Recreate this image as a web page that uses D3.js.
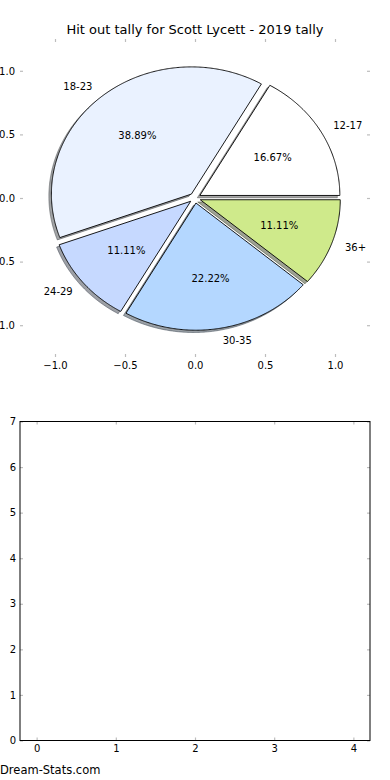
<!DOCTYPE html>
<html>
<head>
<meta charset="utf-8">
<script src="https://cdn.jsdelivr.net/npm/d3@7"></script>
<style>
  html, body { margin: 0; padding: 0; background: #fff; }
  svg { display: block; }
  text { font-family: "DejaVu Sans", sans-serif; fill: #000; }
</style>
</head>
<body>
<svg id="chart" width="390" height="780"></svg>
<script>
// ---- data ----
const titleText = "Hit out tally for Scott Lycett - 2019 tally";
const categories = ["12-17", "18-23", "24-29", "30-35", "36+"];
const values = [3, 7, 2, 4, 2];
const sliceColors = ["#ffffff", "#eaf2ff", "#c6d9ff", "#b4d7ff", "#cfea8b"];
const explode = [0.04, 0.04, 0.04, 0.04, 0.04];
const pieTicks = [-1.0, -0.5, 0.0, 0.5, 1.0];
const lowerXTicks = [0, 1, 2, 3, 4];
const lowerYTicks = [0, 1, 2, 3, 4, 5, 6, 7];
const watermark = "Dream-Stats.com";

const svg = d3.select("#chart");

// ---- top (pie) panel ----
const topBox = {left: 20, right: 370, top: 39, bottom: 357};
const x1 = d3.scaleLinear().domain([-1.25, 1.25]).range([topBox.left, topBox.right]);
const y1 = d3.scaleLinear().domain([-1.25, 1.25]).range([topBox.bottom, topBox.top]);

svg.append("text")
  .attr("x", (topBox.left + topBox.right) / 2)
  .attr("y", 34)
  .attr("text-anchor", "middle")
  .style("font-size", "13px")
  .text(titleText);

const tickColor = "#bdbdbd";
function styleAxis(g) {
  g.select(".domain").remove();
  g.selectAll(".tick line").attr("stroke", tickColor).attr("stroke-width", 1.2);
  g.selectAll(".tick text").style("font-family", "DejaVu Sans, sans-serif").style("font-size", "10px").attr("fill", "#000");
}
const fmt1 = d3.format(".1f");
svg.append("g").attr("transform", `translate(${topBox.left},0)`)
  .call(d3.axisLeft(y1).tickValues(pieTicks).tickFormat(fmt1).tickSize(-3).tickPadding(5)).call(styleAxis);
svg.append("g").attr("transform", `translate(${topBox.right},0)`)
  .call(d3.axisRight(y1).tickValues(pieTicks).tickFormat("").tickSize(-3)).call(styleAxis);
svg.append("g").attr("transform", `translate(0,${topBox.bottom})`)
  .call(d3.axisBottom(x1).tickValues(pieTicks).tickFormat(fmt1).tickSize(-3).tickPadding(4.5)).call(styleAxis);
svg.append("g").attr("transform", `translate(0,${topBox.top})`)
  .call(d3.axisTop(x1).tickValues(pieTicks).tickFormat("").tickSize(-3)).call(styleAxis);

// pie angles (matplotlib style: counter-clockwise from +x)
const total = d3.sum(values);
const pie = d3.pie().sort(null).startAngle(0).endAngle(2 * Math.PI);
const arcs = pie(values).map((a, i) => {
  const t0 = a.startAngle, t1 = a.endAngle, tm = (t0 + t1) / 2;
  const cx = explode[i] * Math.cos(tm), cy = explode[i] * Math.sin(tm);
  return {i, t0, t1, tm, cx, cy};
});
function wedgePoints(d, ox, oy) {
  const pts = [[d.cx + ox, d.cy + oy]];
  const n = Math.max(8, Math.ceil((d.t1 - d.t0) / (Math.PI / 360)));
  for (let k = 0; k <= n; k++) {
    const t = d.t0 + (d.t1 - d.t0) * k / n;
    pts.push([d.cx + ox + Math.cos(t), d.cy + oy + Math.sin(t)]);
  }
  pts.push([d.cx + ox, d.cy + oy]);
  return pts;
}
const line = d3.line().x(p => x1(p[0])).y(p => y1(p[1]));

// shadows
const shadowGroup = svg.append("g");
arcs.forEach(d => {
  const c = d3.rgb(sliceColors[d.i]);
  const sc = d3.rgb(c.r * 0.3, c.g * 0.3, c.b * 0.3);
  shadowGroup.append("path")
    .attr("d", line(wedgePoints(d, -0.018, -0.018)) + "Z")
    .attr("fill", sc).attr("fill-opacity", 0.5)
    .attr("stroke", sc).attr("stroke-opacity", 0.5).attr("stroke-width", 1);
});
// wedges
const wedgeGroup = svg.append("g");
arcs.forEach(d => {
  wedgeGroup.append("path")
    .attr("d", line(wedgePoints(d, 0, 0)) + "Z")
    .attr("fill", sliceColors[d.i])
    .attr("stroke", "#000").attr("stroke-width", 0.9)
    .attr("stroke-linejoin", "miter");
});
// labels
const pctFmt = d3.format(".2f");
arcs.forEach(d => {
  const lx = d.cx + 1.1 * Math.cos(d.tm), ly = d.cy + 1.1 * Math.sin(d.tm);
  svg.append("text")
    .attr("x", x1(lx)).attr("y", y1(ly)).attr("dy", "0.35em")
    .attr("text-anchor", lx > 0 ? "start" : "end")
    .style("font-size", "10px")
    .text(categories[d.i]);
  const px = d.cx + 0.6 * Math.cos(d.tm), py = d.cy + 0.6 * Math.sin(d.tm);
  svg.append("text")
    .attr("x", x1(px)).attr("y", y1(py)).attr("dy", "0.35em")
    .attr("text-anchor", "middle")
    .style("font-size", "10px")
    .text(pctFmt(values[d.i] / total * 100) + "%");
});

// ---- bottom (empty) panel ----
const bot = {left: 20, right: 370, top: 421.5, bottom: 740.5};
const x2 = d3.scaleLinear().domain([-0.21, 4.21]).range([bot.left, bot.right]);
const y2 = d3.scaleLinear().domain([0, 7]).range([bot.bottom, bot.top]);
svg.append("g").attr("transform", `translate(${bot.left},0)`)
  .call(d3.axisLeft(y2).tickValues(lowerYTicks).tickFormat(d3.format("d")).tickSize(-3).tickPadding(4)).call(styleAxis);
svg.append("g").attr("transform", `translate(${bot.right},0)`)
  .call(d3.axisRight(y2).tickValues(lowerYTicks).tickFormat("").tickSize(-3)).call(styleAxis);
svg.append("g").attr("transform", `translate(0,${bot.bottom})`)
  .call(d3.axisBottom(x2).tickValues(lowerXTicks).tickFormat(d3.format("d")).tickSize(-3).tickPadding(4)).call(styleAxis);
svg.append("g").attr("transform", `translate(0,${bot.top})`)
  .call(d3.axisTop(x2).tickValues(lowerXTicks).tickFormat("").tickSize(-3)).call(styleAxis);
svg.append("rect")
  .attr("x", bot.left).attr("y", bot.top)
  .attr("width", bot.right - bot.left).attr("height", bot.bottom - bot.top)
  .attr("fill", "none").attr("stroke", "#000").attr("stroke-width", 1);

// watermark
svg.append("text")
  .attr("x", 0).attr("y", 774)
  .style("font-size", "11.5px")
  .attr("fill", "#9a9a9a")
  .text(watermark);
</script>
</body>
</html>
